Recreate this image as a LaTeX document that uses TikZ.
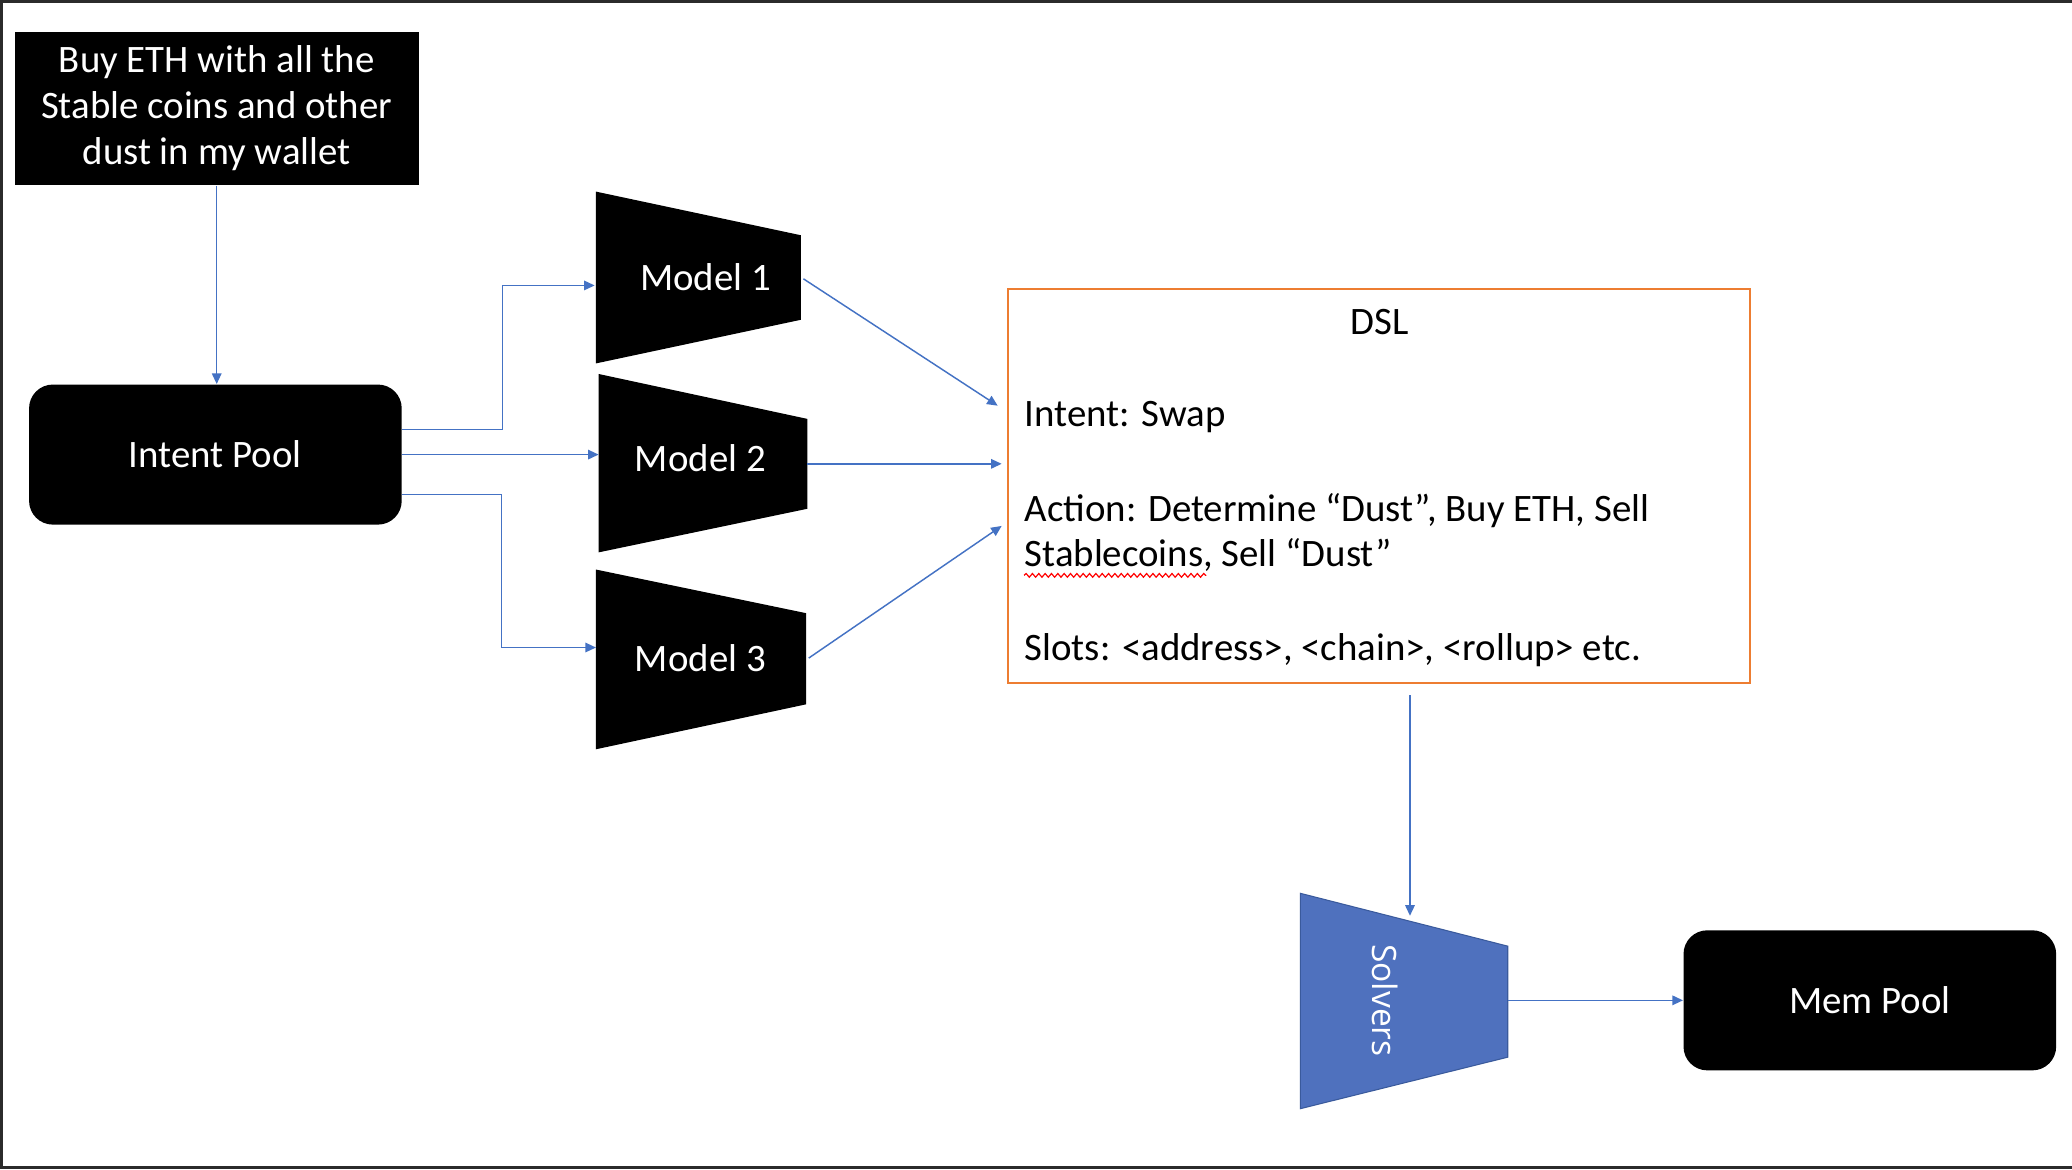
\documentclass[tikz,border=0pt]{standalone}
\usepackage{fontspec}
\setmainfont{Carlito}
\newfontfamily\solfont{Open Sans}
\usetikzlibrary{arrows.meta,decorations.pathmorphing}
\definecolor{lblue}{HTML}{4472C4}
\definecolor{sblue}{HTML}{4F71BE}
\definecolor{sedge}{HTML}{3A5A9C}
\definecolor{dorange}{HTML}{ED7D31}
\definecolor{framecol}{HTML}{2B2B2B}
\begin{document}
\begin{tikzpicture}[x=0.5pt,y=-0.5pt,
  conn/.style={draw=lblue, line width=0.55pt, -{Triangle[length=4pt,width=3.6pt]}},
  txt/.style={font=\fontsize{14.7}{17.5}\selectfont, inner sep=0pt},
  blackbox/.style={txt, fill=black, text=white, align=center},
  wlbl/.style={txt, text=white},
  dsltxt/.style={txt, text=black, anchor=base west}
]
\useasboundingbox (0,0) rectangle (1568,885);
\fill[white] (0,0) rectangle (1568,885);
% frame
\fill[framecol] (0,0) rectangle (1568,2.5);
\fill[framecol] (0,0) rectangle (2.5,885);
\fill[framecol] (0,882) rectangle (1568,885);

% top request box
\node[blackbox, minimum width=153pt, minimum height=58pt] (req) at (164,82)
  {Buy ETH with all the\\Stable coins and other\\dust in my wallet};

% intent pool
\node[blackbox, rounded corners=9pt, minimum width=141pt, minimum height=53pt] (ip) at (163,344) {Intent Pool};

% mem pool
\node[blackbox, rounded corners=9pt, minimum width=141pt, minimum height=53pt] (mp) at (1415,757) {Mem Pool};

% models
\coordinate (m1tl) at (451,145); \coordinate (m1tr) at (606,178);
\coordinate (m1br) at (606,242); \coordinate (m1bl) at (451,275);
\fill[black] (m1tl) -- (m1tr) -- (m1br) -- (m1bl) -- cycle;
\node[wlbl] (m1) at (534,210) {Model 1};

\coordinate (m2tl) at (453,283); \coordinate (m2tr) at (611,317);
\coordinate (m2br) at (611,385); \coordinate (m2bl) at (453,418);
\fill[black] (m2tl) -- (m2tr) -- (m2br) -- (m2bl) -- cycle;
\node[wlbl] (m2) at (530,347) {Model 2};

\coordinate (m3tl) at (451,431); \coordinate (m3tr) at (610,464);
\coordinate (m3br) at (610,533); \coordinate (m3bl) at (451,567);
\fill[black] (m3tl) -- (m3tr) -- (m3br) -- (m3bl) -- cycle;
\node[wlbl] (m3) at (530,498) {Model 3};

\coordinate (m1in) at (450,216);
\coordinate (m2in) at (453,344);
\coordinate (m3in) at (451,490);
\coordinate (m1out) at (608,211);
\coordinate (m2out) at (611,351);
\coordinate (m3out) at (612,498);

% DSL box
\node[draw=dorange, line width=0.8pt, minimum width=280.5pt, minimum height=149pt, inner sep=0pt] (dsl) at (1043.5,368) {};
\node[txt, anchor=base] (dsltitle) at (1044,253) {DSL};
\node[dsltxt] (dintent) at (775,323) {Intent: Swap};
\node[dsltxt] (daction) at (775,395) {Action: Determine “Dust”, Buy ETH, Sell};
\node[dsltxt] (dstable) at (775,429) {Stablecoins, Sell “Dust”};
\node[dsltxt] (dslots) at (775,500) {Slots: <address>, <chain>, <rollup> etc.};
\draw[red, line width=0.45pt, decorate, decoration={snake, amplitude=0.7pt, segment length=2.4pt}]
  ([yshift=-3.2pt]dstable.base west) -- ([yshift=-3.2pt,xshift=69pt]dstable.base west);

\coordinate (d1) at (755,307);
\coordinate (d2) at (758,351);
\coordinate (d3) at (758,398);
\coordinate (dslout) at (1067,526);

% solvers
\coordinate (stl) at (984,676); \coordinate (str) at (1141,716);
\coordinate (sbr) at (1141,800); \coordinate (sbl) at (984,839);
\filldraw[fill=sblue, draw=sedge, line width=0.4pt] (stl) -- (str) -- (sbr) -- (sbl) -- cycle;
\node[text=white, font=\solfont\fontsize{12.7}{14}\selectfont, rotate=-90, inner sep=0pt] (sol) at (1048,757) {Solvers};
\coordinate (solin) at (1067,693);
\coordinate (solout) at (1141,757);

% connectors
\draw[conn] (req.south) -- (req.south |- ip.north);
\draw[conn] ([yshift=9.5pt]ip.east) -- ++(76,0) |- (m1in);
\draw[conn] (ip.east) -- (m2in);
\draw[conn] ([yshift=-15pt]ip.east) -- ++(75,0) |- (m3in);
\draw[conn] (m1out) -- (d1);
\draw[conn] (m2out) -- (d2);
\draw[conn] (m3out) -- (d3);
\draw[conn] (dslout) -- (solin);
\draw[conn] (solout) -- (solout -| mp.west);
\end{tikzpicture}
\end{document}
